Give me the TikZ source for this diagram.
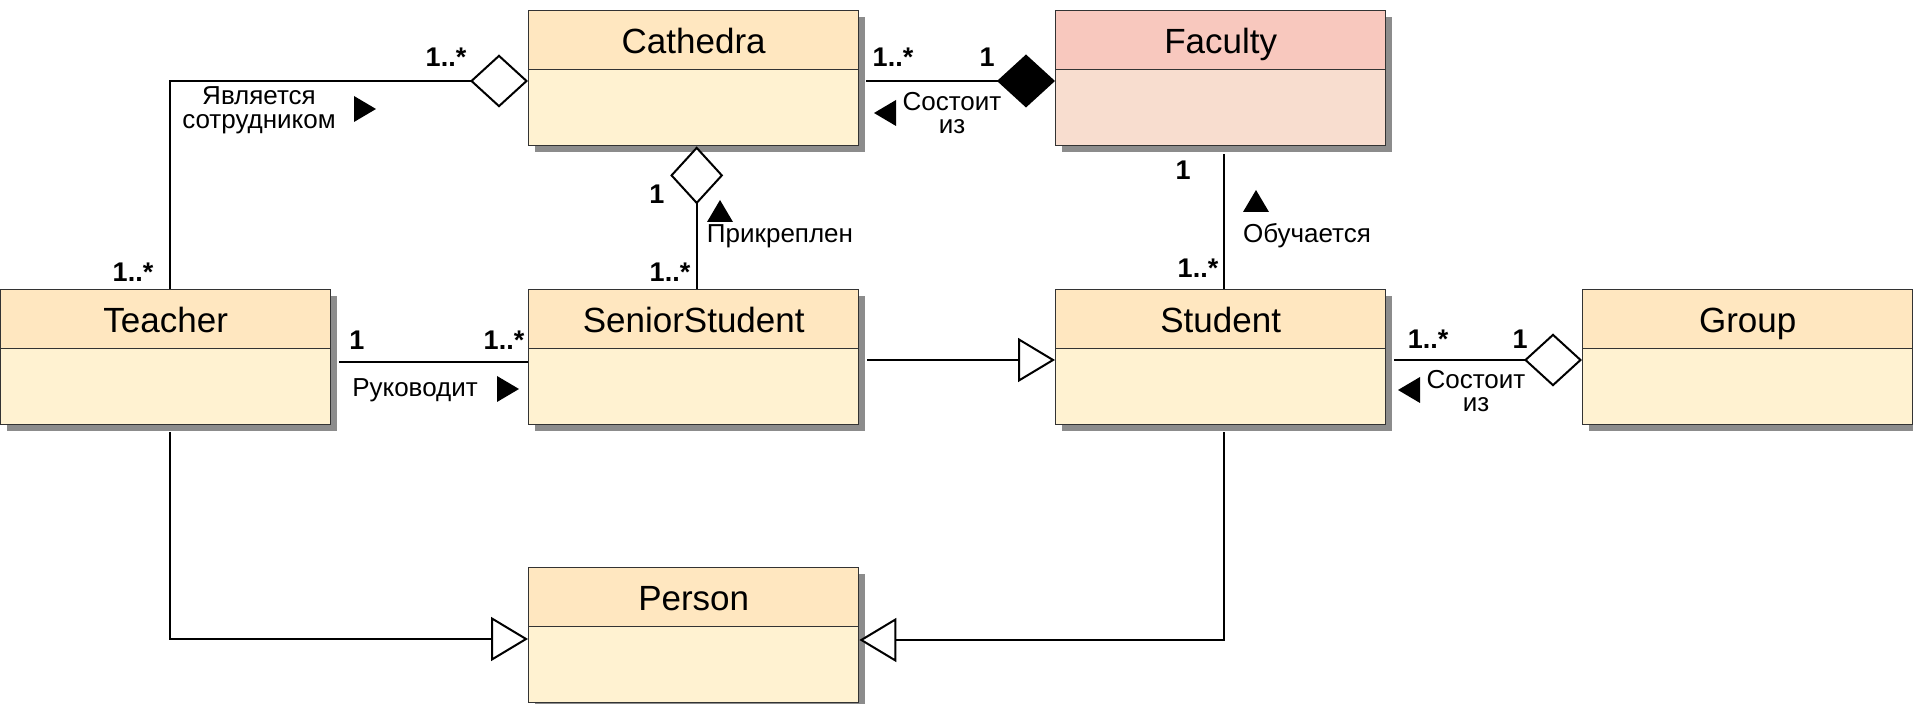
\documentclass[tikz,border=0pt]{standalone}
\usepackage{xcolor}
\usepackage{fontspec}
\setmainfont{Liberation Sans}
\usepackage{tikz}
\usetikzlibrary{arrows}
\usetikzlibrary{arrows.meta}
\usetikzlibrary{positioning, shapes.geometric, shadows}
\definecolor{classhead}{RGB}{255,231,192}
\definecolor{classbody}{RGB}{255,242,209}
\definecolor{facultyhead}{RGB}{248,200,190}
\definecolor{facultybody}{RGB}{248,221,207}
\tikzset{
class head/.style = { rectangle, draw = black!80, line width = 0.7pt, fill = classhead, minimum width = 165pt, minimum height = 29.5pt, inner sep = 0pt, text height = 14pt, text depth = 0.5pt, anchor = north west, font = \fontsize{17.5}{20}\selectfont, drop shadow = {shadow xshift = 3pt, shadow yshift = -3pt, fill = black!45, opacity = 1} },
class body/.style = { rectangle, draw = black!80, line width = 0.7pt, fill = classbody, minimum width = 165pt, minimum height = 38pt, inner sep = 0pt, anchor = north west, drop shadow = {shadow xshift = 3pt, shadow yshift = -3pt, fill = black!45, opacity = 1} },
mult/.style = { inner sep = 0pt, font = \bfseries\fontsize{13.5}{14}\selectfont },
role/.style = { inner sep = 0pt, align = center, font = \fontsize{13}{11.8}\selectfont },
assoc/.style = { draw = black, line width = 1pt },
aggr/.style = { -{Diamond[length = 29pt, width = 26.5pt, fill = white]} },
comp/.style = { -{Diamond[length = 29pt, width = 26.5pt]} },
inherit/.style = { -{Triangle[length = 18.5pt, width = 22pt, fill = white]} },
}
\tikzset{
pics/uml class/.style args={#1, #2, #3}{
        code = {
        \node[class head, fill = #2] (-head) at (0, 0) {#1};
        \node[class body, fill = #3] (-body) at (0, 59) {};
        }
    },
pics/dir mark/.style = {
        code = {
        % \fill (-11, -11) -- (11, 0) -- (-11, 11) -- cycle;
        \fill (-11, -13) -- (11, 0) -- (-11, 13) -- cycle;
        }
    }
}

\begin{document}
\begin{tikzpicture}[x = 0.5pt, y = -0.5pt]
    \useasboundingbox (0, 0) rectangle (1913, 704);
    % \draw[help lines] (0, 0) grid[step = 100] (1913, 704);
    \draw (528, 10) pic (cath) {uml class = {Cathedra, classhead, classbody}};
    \draw (1055, 10) pic (fac) {uml class = {Faculty, facultyhead, facultybody}};
    \draw (0, 289) pic (teacher) {uml class = {Teacher, classhead, classbody}};
    \draw (528, 289) pic (senior) {uml class = {SeniorStudent, classhead, classbody}};
    \draw (1055, 289) pic (stud) {uml class = {Student, classhead, classbody}};
    \draw (1582, 289) pic (grp) {uml class = {Group, classhead, classbody}};
    \draw (528, 567) pic (person) {uml class = {Person, classhead, classbody}};

    \draw[assoc, aggr] ([xshift = 2pt]teacher-head.north) |- ([yshift = -6pt]cath-body.north west);
    \draw[assoc, comp] ([xshift = 3.5pt, yshift = -6pt]cath-body.north east) -- ([yshift = -6pt]fac-body.north west);
    \draw[assoc, aggr] ([xshift = 1.5pt]senior-head.north) -- ([xshift = 1.5pt]cath-body.south);
    \draw[assoc] ([xshift = 1.5pt]stud-head.north) -- ([xshift = 1.5pt, yshift = -4pt]fac-body.south);
    \draw[assoc] ([xshift = 4pt, yshift = -7pt]teacher-body.north east) -- ([yshift = -7pt]senior-body.north west);
    \draw[assoc, inherit] ([xshift = 4pt, yshift = -6pt]senior-body.north east) -- ([yshift = -6pt]stud-body.north west);
    \draw[assoc, aggr] ([xshift = 4pt, yshift = -6pt]stud-body.north east) -- ([yshift = -6pt]grp-body.north west);
    \draw[assoc, inherit] ([xshift = 2pt, yshift = -3.5pt]teacher-body.south) |- ([yshift = -6.5pt]person-body.north west);
    \draw[assoc, inherit] ([xshift = 1.5pt, yshift = -3.5pt]stud-body.south) |- ([yshift = -7pt]person-body.north east);

    \node[mult] (mul cath teacher) at (446, 57) {1..*};
    \node[mult] (mul teacher cath) at (133, 272) {1..*};
    \node[mult] (mul cath senior) at (657, 194) {1};
    \node[mult] (mul senior cath) at (670, 272) {1..*};
    \node[mult] (mul cath fac) at (893, 57) {1..*};
    \node[mult] (mul fac cath) at (987, 57) {1};
    \node[mult] (mul fac stud) at (1183, 170) {1};
    \node[mult] (mul stud fac) at (1198, 268) {1..*};
    \node[mult] (mul teacher senior) at (357, 340) {1};
    \node[mult] (mul senior teacher) at (504, 340) {1..*};
    \node[mult] (mul stud grp) at (1428, 339) {1..*};
    \node[mult] (mul grp stud) at (1520, 339) {1};

    \node[role] (works) at (259, 110) {Является\\сотрудником};
    \node[role] (attached) at (780, 236) {Прикреплен};
    \node[role] (fac parts) at (952, 113) {Состоит\\из};
    \node[role] (studies) at (1307, 236) {Обучается};
    \node[role] (leads) at (415, 390) {Руководит};
    \node[role] (grp parts) at (1476, 391) {Состоит\\из};
    \path (365, 109) pic{dir mark};
    \path (720, 211) pic[rotate = 90]{dir mark};
    \path (885, 113) pic[rotate = 180]{dir mark};
    \path (1256, 201) pic[rotate = 90]{dir mark};
    \path (508, 389) pic{dir mark};
    \path (1409, 390) pic[rotate = 180]{dir mark};
  \end{tikzpicture}
\end{document}
